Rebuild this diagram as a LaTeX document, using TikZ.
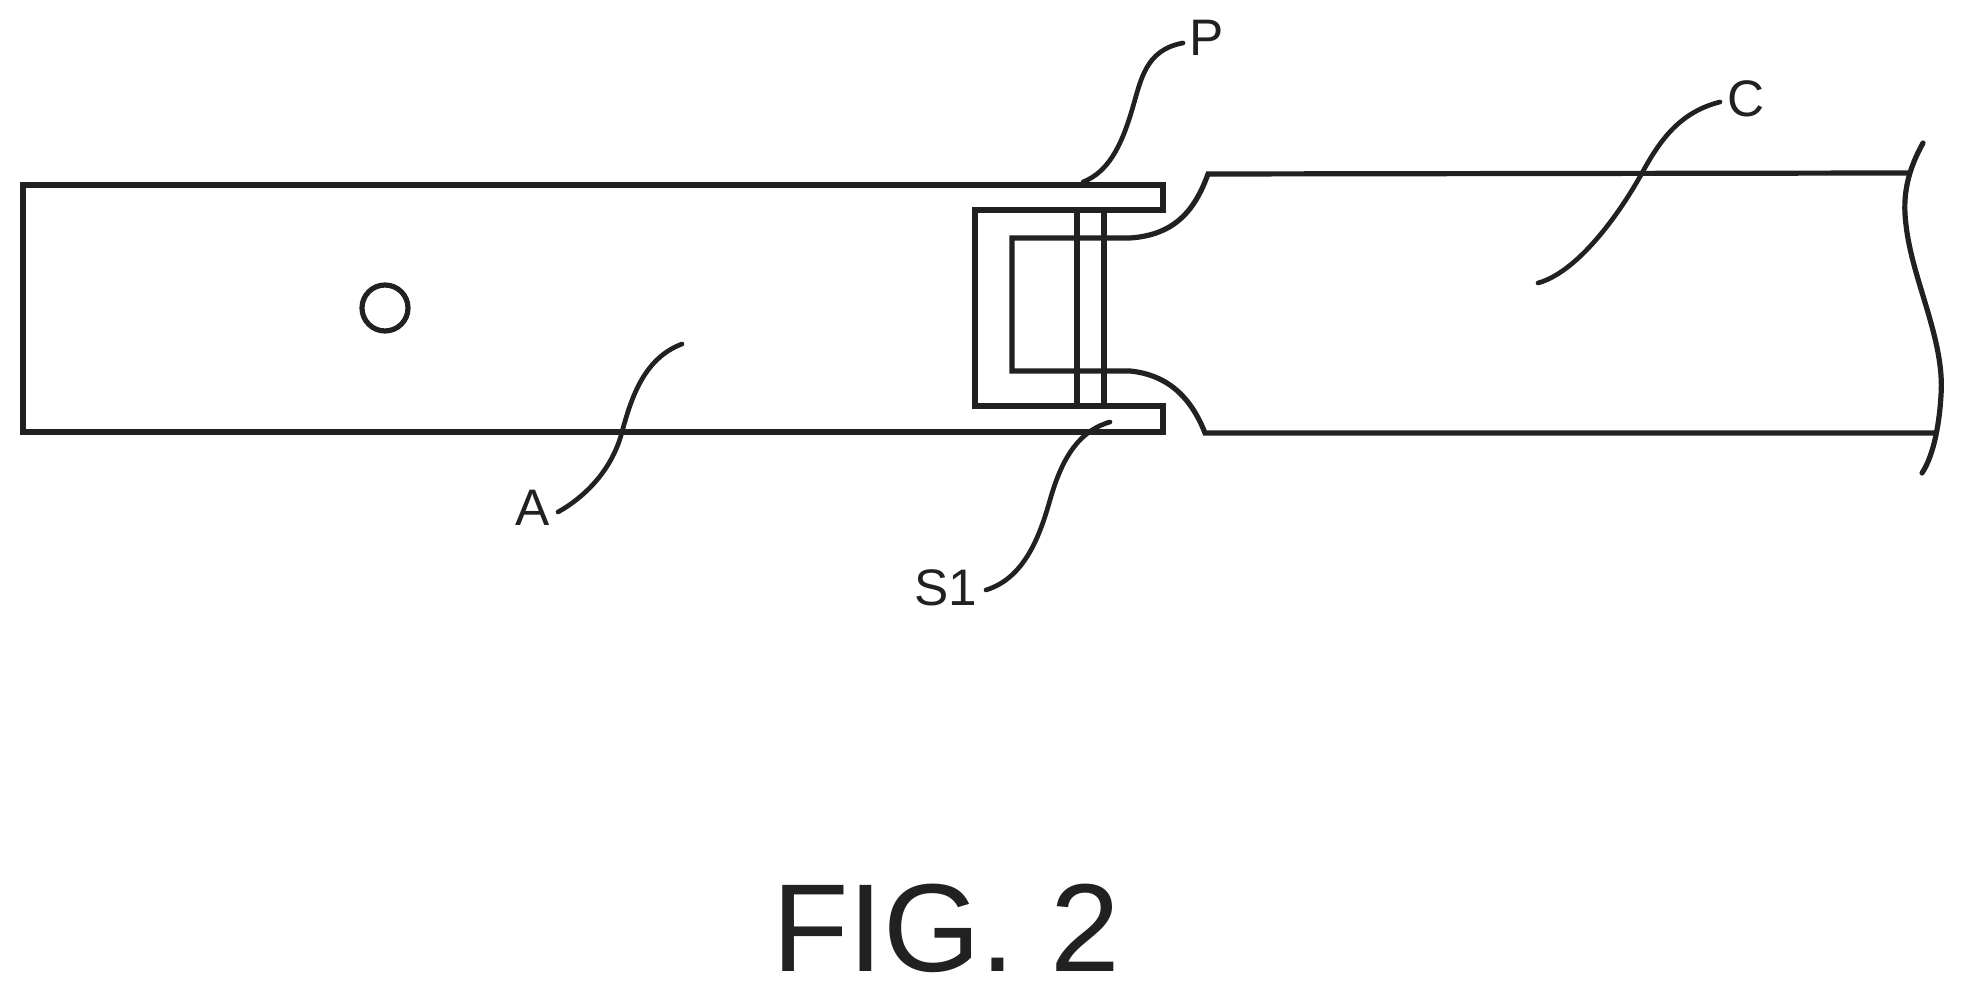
\documentclass[tikz,border=0pt]{standalone}
\usepackage{fontspec}
\setmainfont{Liberation Sans}

\definecolor{ink}{gray}{.13}

\tikzset{
  outline/.style={draw=ink,line width=.052cm,line join=miter},
  leader/.style={draw=ink,line width=.047cm,line cap=round},
  reflabel/.style={inner sep=0pt,text=ink,font=\fontsize{14.6}{16}\selectfont},
  figlabel/.style={inner sep=0pt,text=ink,font=\fontsize{35.6}{40}\selectfont}
}

\def\ax{23}
\def\ay{185}
\def\by{432}
\def\holer{23}

\begin{document}
\begin{tikzpicture}[x=.01cm,y=-.01cm]
\useasboundingbox (0,0) rectangle (1964,995);

% left part
\draw[outline] (\ax,\ay) -- (1163,\ay) -- (1163,210) -- (975,210) -- (975,406)
  -- (1163,406) -- (1163,\by) -- (\ax,\by) -- cycle;
\draw[outline] (385,308) circle (\holer);

% pins
\draw[outline] (1077,210) -- (1077,406);
\draw[outline] (1104,210) -- (1104,406);

% right part
\draw[outline] (1910,173) -- (1208,174) .. controls (1195,210) and (1175,235) .. (1130,238)
  -- (1012,238) -- (1012,371) -- (1130,371)
  .. controls (1170,375) and (1192,400) .. (1205,433) -- (1937,433);

% break line
\draw[outline,line cap=round] (1923,143) .. controls (1908,170) and (1902,195) .. (1906,225)
  .. controls (1912,280) and (1945,340) .. (1941,395)
  .. controls (1939,430) and (1932,458) .. (1922,473);

% labels
\node[reflabel] (lblP) at (1207,38) {P};
\node[reflabel] (lblC) at (1746,99) {C};
\node[reflabel] (lblA) at (533,508) {A};
\node[reflabel] (lblS) at (946,588) {S1};
\node[figlabel] (fig) at (946,928) {FIG. 2};

% leaders
\coordinate (pa) at (1183,43);
\coordinate (pb) at (1132,110);
\coordinate (pc) at (1083,182);
\draw[leader] (pa) .. controls (1145,50) and (1141,80) .. (pb)
  .. controls (1121,147) and (1108,172) .. (pc);

\coordinate (ca) at (1720,102);
\coordinate (cb) at (1642,173);
\coordinate (cc) at (1538,283);
\draw[leader] (ca) .. controls (1680,112) and (1660,140) .. (cb)
  .. controls (1620,213) and (1578,272) .. (cc);

\coordinate (aa) at (682,344);
\coordinate (ab) at (622,432);
\coordinate (ac) at (558,512);
\draw[leader] (aa) .. controls (645,358) and (632,395) .. (ab)
  .. controls (612,470) and (585,497) .. (ac);

\coordinate (sa) at (1110,422);
\coordinate (sb) at (1050,500);
\coordinate (sc) at (986,590);
\draw[leader] (sa) .. controls (1075,432) and (1060,465) .. (sb)
  .. controls (1040,535) and (1025,578) .. (sc);
\end{tikzpicture}
\end{document}
